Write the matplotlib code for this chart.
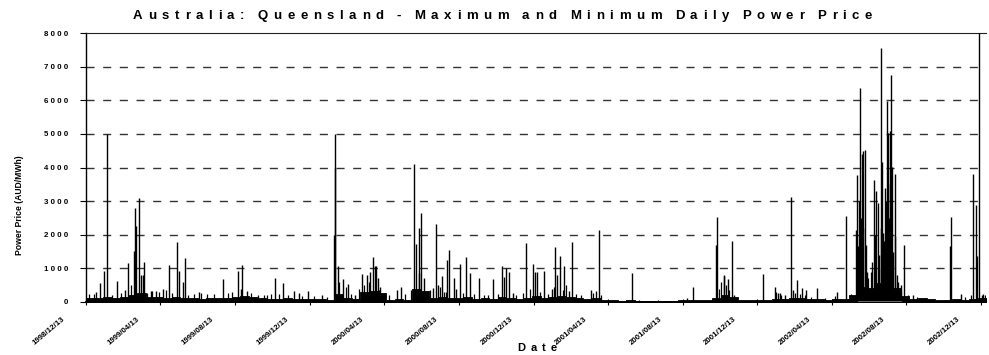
import numpy as np
import pandas as pd
import matplotlib
matplotlib.use("Agg")
import matplotlib.pyplot as plt
from matplotlib.transforms import ScaledTranslation

plt.rcParams['font.family'] = ['Liberation Sans', 'DejaVu Sans']

# ---------------- data ----------------
start_date = "1998-12-13"
end_date = "2002-12-21"
period_days = 14

# typical (background) daily maximum price per fortnight, AUD/MWh
base_max = [120, 130, 160, 130, 150, 210, 270, 160, 140, 130,
            150, 120, 110, 100, 120, 130, 110, 160, 180, 150,
            110, 90, 100, 110, 80, 90, 80, 90, 70, 230,
            130, 80, 290, 340, 270, 70, 80, 70, 390, 330,
            130, 150, 130, 120, 140, 100, 110, 100, 140, 130,
            90, 120, 170, 130, 140, 180, 140, 120, 100, 130,
            55, 45, 40, 45, 40, 35, 40, 35, 40, 45,
            50, 45, 55, 130, 210, 160, 65, 55, 60, 65,
            100, 90, 120, 110, 90, 80, 70, 80, 90, 210,
            460, 420, 560, 520, 420, 190, 100, 120, 80, 70,
            70, 80, 70, 90, 130, 110]

# typical daily minimum price per fortnight, AUD/MWh
base_min = [12, 12, 13, 13, 14, 14, 13, 12, 12, 11,
            11, 10, 10, 10, 11, 11, 12, 12, 12, 11,
            10, 10, 10, 10, 9, 9, 9, 10, 10, 12,
            12, 11, 13, 14, 13, 10, 10, 10, 14, 13,
            12, 12, 12, 11, 11, 10, 10, 10, 11, 11,
            10, 10, 12, 12, 12, 13, 12, 11, 10, 11,
            9, 8, 8, 8, 8, 8, 8, 8, 8, 9,
            9, 9, 9, 11, 12, 11, 10, 9, 9, 10,
            10, 10, 11, 11, 10, 10, 10, 10, 11, 13,
            16, 16, 17, 17, 15, 12, 11, 11, 10, 10,
            10, 10, 10, 11, 12, 12]

# days (since 1998/12/13) with large price spikes, and the daily maximum on those days
spike_day = [16, 23, 29, 34, 50, 63, 68, 78, 80, 82,
             86, 89, 93, 95, 106, 114, 126, 136, 149, 151,
             158, 161, 185, 224, 248, 253, 255, 263,
             309, 322, 340, 347, 363, 385, 404, 406, 407, 412,
             419, 427, 439, 450, 459, 464, 469, 471, 473, 476,
             480, 488, 507, 514, 536, 539, 543, 544, 547, 551,
             567, 571, 574, 581, 590,
             593, 601, 604, 610, 620, 627, 641, 665, 679, 683,
             686, 691, 697, 718, 730, 733, 736, 747, 760, 766,
             768, 774, 781, 788, 794, 824, 833, 837,
             892, 981, 991, 1029, 1030, 1041, 1042, 1048, 1054, 1058,
             1105, 1124, 1129, 1132, 1141, 1150, 1154, 1160, 1169, 1176,
             1193, 1226, 1241, 1256, 1258, 1260, 1262, 1263, 1265, 1266,
             1268, 1269, 1272, 1273, 1275, 1280, 1283, 1286, 1288, 1290,
             1292, 1295, 1297, 1298, 1299, 1301, 1303, 1304, 1306, 1307,
             1309, 1310, 1312, 1313, 1314, 1316, 1318, 1320, 1321, 1323,
             1326, 1330, 1335, 1350, 1410, 1412, 1429, 1447, 1452, 1455,
             1457, 1462, 1467]
spike_val = [300, 570, 935, 5000, 610, 345, 1160, 1530, 2790, 2270,
             3080, 790, 810, 1180, 335, 335, 395, 1100, 1770, 935,
             590, 1300, 300, 680, 935, 400, 1100, 315,
             720, 570, 325, 255, 325, 205, 2000, 5000, 4000, 1080,
             670, 550, 200, 840, 800, 900, 1330, 1080, 1060, 720,
             440, 245, 355, 440, 4090, 1720, 2190, 870, 2640, 700,
             420, 2310, 520, 770, 1260,
             1545, 700, 390, 1120, 1330, 860, 710, 670, 1080, 740,
             1010, 890, 265, 1750, 1130, 890, 890, 910, 390, 1650,
             790, 1375, 1080, 325, 1790, 360, 340, 2150,
             850, 120, 460, 1690, 2540, 800, 780, 690, 1810, 220,
             840, 460, 270, 270, 200, 3110, 360, 660, 410, 360,
             420, 290, 2570, 2135, 3770, 1665, 3000, 6370, 2500, 4410,
             2200, 4505, 4525, 1690, 900, 320, 1200, 3620, 2000, 3300,
             2940, 1400, 2200, 7560, 4160, 2060, 1800, 3380, 3000, 5990,
             5040, 2500, 5090, 3500, 6760, 4015, 1500, 3800, 1960, 800,
             600, 500, 1695, 215, 1665, 2520, 245, 3800, 2890, 1370,
             8000, 215, 195]

# smaller daily peaks ("grass" above the background level)
minor_day = [5, 13, 43, 57, 73, 100, 108, 119, 130, 141,
             166, 177, 187, 198, 209, 231, 239, 269, 280, 291,
             296, 302, 315, 329, 353, 372, 394, 413, 424, 433,
             446, 454, 462, 479, 495, 520, 531, 555, 561, 577,
             585, 588, 615, 634, 650, 656, 672, 702, 713, 724,
             741, 754, 764, 779, 784, 800, 808, 827, 841,
             903, 934, 1034, 1037, 1045, 1050, 1127, 1135, 1157, 1165,
             1173, 1184, 1206, 1222, 1249, 1276, 1282, 1294, 1325, 1331,
             1342, 1356, 1369, 1434, 1445, 1464, 1471]
minor_val = [250, 230, 220, 280, 500, 260, 340, 300, 350, 260,
             220, 250, 280, 230, 250, 260, 300, 260, 200, 220,
             200, 230, 250, 200, 190, 180, 150, 600, 450, 250,
             400, 500, 600, 350, 200, 250, 350, 300, 350, 450,
             300, 300, 280, 250, 200, 220, 230, 200, 280, 400,
             300, 250, 450, 350, 500, 230, 200, 260, 200,
             70, 60, 400, 600, 500, 350, 300, 220, 280, 250,
             200, 150, 120, 180, 250, 700, 900, 1000, 400, 350,
             200, 150, 120, 150, 200, 250, 200]

tick_dates = ["1998-12-13", "1999-04-13", "1999-08-13", "1999-12-13",
              "2000-04-13", "2000-08-13", "2000-12-13", "2001-04-13",
              "2001-08-13", "2001-12-13", "2002-04-13", "2002-08-13",
              "2002-12-13"]
y_ticks = [0, 1000, 2000, 3000, 4000, 5000, 6000, 7000, 8000]

title = "Australia: Queensland - Maximum and Minimum Daily Power Price"
x_label = "Date"
y_label = "Power Price (AUD/MWh)"

# ---------------- figure ----------------
W, H = 989, 355
fig = plt.figure(figsize=(W / 100, H / 100), dpi=100)
L, R, T, B = 86, 986, 33, 302
ax = fig.add_axes([L / W, 1 - B / H, (R - L) / W, (B - T) / H])

t0 = pd.Timestamp(start_date)
period_dates = [t0 + pd.Timedelta(days=period_days * i) for i in range(len(base_max))]
spike_dates = [t0 + pd.Timedelta(days=d) for d in spike_day]
minor_dates = [t0 + pd.Timedelta(days=d) for d in minor_day]

ax.fill_between(period_dates, 0, base_max, step="post", color="black", lw=0.6,
                edgecolor="black", zorder=3)
ax.vlines(minor_dates, 0, minor_val, color="black", lw=0.9, zorder=4)
ax.vlines(spike_dates, 0, spike_val, color="black", lw=1.0, zorder=4)
ax.plot(period_dates, base_min, color="#777777", lw=0.6, drawstyle="steps-post", zorder=5)

ax.set_xlim(t0, pd.Timestamp(end_date))
ax.set_ylim(0, 8000)

# grid
ax.set_yticks(y_ticks)
for v in y_ticks[1:-1]:
    ax.axhline(v, color="#333333", lw=1.0, dashes=(5.8, 6.2), zorder=1)

# spines
ax.spines["right"].set_visible(False)
ax.spines["top"].set_linestyle((0, (1, 1)))
ax.spines["top"].set_linewidth(0.8)
ax.spines["top"].set_color("#222222")
ax.spines["left"].set_linewidth(1.0)
ax.spines["bottom"].set_linewidth(1.4)

# y tick labels (letter spaced as in the original)
ax.set_yticklabels([" ".join(str(v)) for v in y_ticks], fontsize=5.7,
                   fontweight="bold")
ax.tick_params(axis="y", direction="out", length=4, width=0.8, pad=9)

# x ticks
xt = [pd.Timestamp(d) for d in tick_dates]
ax.set_xticks(xt)
ax.set_xticklabels([d.replace("-", "/") for d in tick_dates], fontsize=5.7,
                   fontweight="bold", rotation=40, ha="right", va="top",
                   rotation_mode="anchor")
ax.tick_params(axis="x", direction="inout", length=4, width=0.8, pad=2)
off = ScaledTranslation(-24 / 100, -8 / 100, fig.dpi_scale_trans)
for lab in ax.get_xticklabels():
    lab.set_transform(lab.get_transform() + off)


def tracked_text(s, x_left, x_right, y_px, fontsize, word_extra=4.0):
    """Draw a letter-spaced string filling [x_left, x_right] (pixels)."""
    renderer = fig.canvas.get_renderer()
    arts, widths = [], []
    for ch in s:
        t = fig.text(0, 1 - y_px / H, ch if ch != " " else "", ha="left",
                     va="center", fontsize=fontsize, fontweight="bold")
        w = t.get_window_extent(renderer).width if ch != " " else 0.0
        arts.append(t)
        widths.append(w)
    n_space = s.count(" ")
    n_gaps = len(s) - 1
    total_glyph = sum(widths)
    track = (x_right - x_left - total_glyph - n_space * word_extra) / n_gaps
    x = x_left
    for ch, t, w in zip(s, arts, widths):
        t.set_x(x / W)
        x += w + track + (word_extra if ch == " " else 0.0)


tracked_text(title, 133, 872, 16, 9.5, word_extra=2.0)
tracked_text(x_label, 517, 557, 348, 8)
fig.text(20 / W, 1 - 205 / H, y_label, ha="center", va="center", rotation=90,
         fontsize=6.2, fontweight="bold")

fig.savefig("out.png", dpi=100)
